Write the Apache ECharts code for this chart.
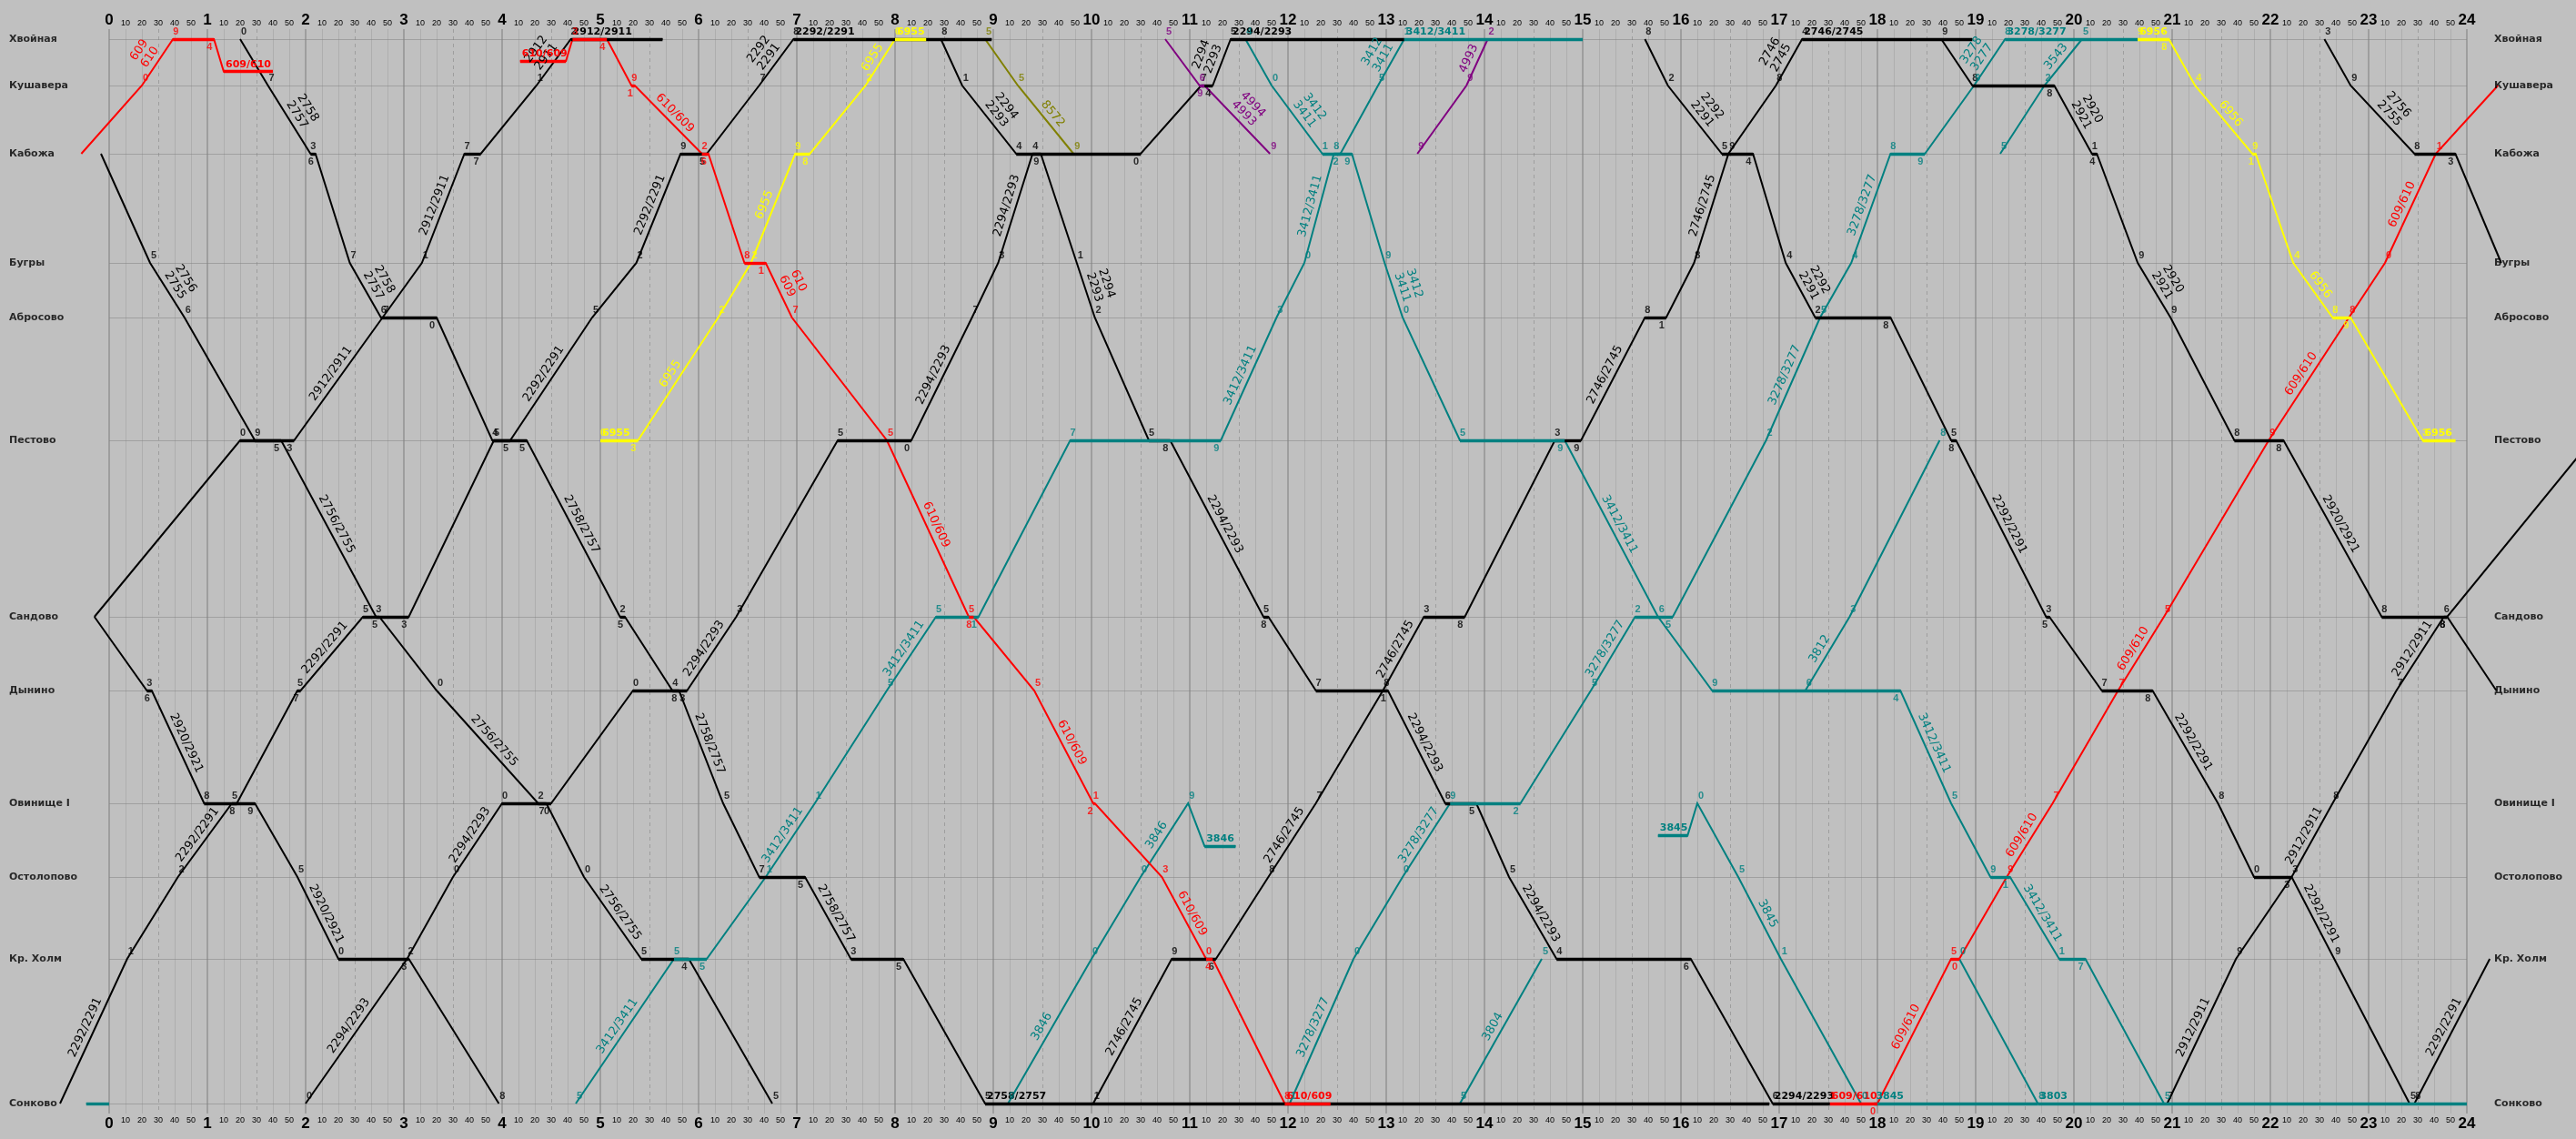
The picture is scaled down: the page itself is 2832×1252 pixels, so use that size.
<!DOCTYPE html>
<html><head><meta charset="utf-8">
<script src="https://cdn.jsdelivr.net/npm/echarts/dist/echarts.min.js"></script>
<style>html,body{margin:0;padding:0;background:#c0c0c0;}#c{width:2832px;height:1252px;}</style>
</head><body><div id="c"></div>
<script>
// ---------------- stations (y positions) ----------------
const stations = ['Хвойная','Кушавера','Кабожа','Бугры','Абросово','Пестово','Сандово','Дынино','Овинище I','Остолопово','Кр. Холм','Сонково'];
const stationKm = [0,51,126,246,306,441,635,716,840,921,1011,1170];
const hourTicks = Array.from({length:25},(_,i)=>i);
const minuteLabels = ['10','20','30','40','50'];

// ---------------- trains: [time, station index] ----------------
const b2756m = [['-0:05',2],['0:25',3],['0:46',4],['1:29',5],['1:45',5],['2:43',6],['2:45',6],['3:20',7],['4:22',8],['4:27',8],['4:50',9],['5:25',10],['5:54',10],['6:45',11]];
const lb2756m = [['0:25','2756\n2755'],['1:45','2756/2755'],['3:20','2756/2755'],['4:50','2756/2755']];
const b2756e = [['22:33',0],['22:49',1],['23:28',2],['23:53',2],['24:21',3]];
const lb2756e = [['22:49','2756\n2755']];
const b2758 = [['1:20',0],['1:37',1],['2:03',2],['2:06',2],['2:27',3],['2:46',4],['3:20',4],['3:54',5],['4:15',5],['5:12',6],['5:15',6],['5:44',7],['5:48',7],['6:15',8],['6:37',9],['7:05',9],['7:33',10],['8:05',10],['8:55',11],['16:54',11]];
const lb2758 = [['1:37','2758\n2757'],['2:27','2758\n2757'],['4:15','2758/2757'],['5:48','2758/2757'],['7:05','2758/2757'],['8:55','2758/2757']];
const b2912m = [['-0:09',6],['1:20',5],['1:53',5],['2:47',4],['3:11',3],['3:37',2],['3:47',2],['4:21',1],['4:42',0],['5:38',0]];
const lb2912m = [['1:53','2912/2911'],['3:11','2912/2911'],['4:21','2912\n2911'],['4:42','2912/2911']];
const b2912e = [['20:57',11],['21:39',10],['22:13',9],['22:38',8],['23:17',7],['23:46',6],['23:48',6],['25:16',5]];
const lb2912e = [['20:57','2912/2911'],['22:13','2912/2911'],['23:17','2912/2911']];
const b2292m = [['-0:30',11],['0:11',10],['0:42',9],['1:15',8],['1:18',8],['1:55',7],['1:57',7],['2:35',6],['3:03',6],['3:55',5],['4:05',5],['4:55',4],['5:22',3],['5:49',2],['6:05',2],['6:37',1],['6:58',0],['8:59',0]];
const lb2292m = [['-0:30','2292/2291'],['0:42','2292/2291'],['1:57','2292/2291'],['4:05','2292/2291'],['5:22','2292/2291'],['6:37','2292\n2291'],['6:58','2292/2291']];
const b2292d = [['15:38',0],['15:52',1],['16:25',2],['16:44',2],['17:04',3],['17:22',4],['18:08',4],['18:45',5],['18:48',5],['19:43',6],['19:45',6],['20:17',7],['20:48',7],['21:28',8],['21:50',9],['22:13',9],['22:39',10],['23:25',11]];
const lb2292d = [['15:52','2292\n2291'],['17:04','2292\n2291'],['18:48','2292/2291'],['20:48','2292/2291'],['22:13','2292/2291']];
const b2292e = [['23:28',11],['24:14',10]];
const lb2292e = [['23:28','2292/2291']];
const b2920m = [['-0:09',6],['0:23',7],['0:26',7],['0:58',8],['1:29',8],['1:55',9],['2:20',10],['3:03',10],['3:58',11]];
const lb2920m = [['0:26','2920/2921'],['1:55','2920/2921']];
const b2920e = [['18:39',0],['18:58',1],['19:48',1],['20:11',2],['20:14',2],['20:39',3],['20:59',4],['21:38',5],['22:08',5],['23:08',6],['23:48',6],['24:18',7]];
const lb2920e = [['19:48','2920\n2921'],['20:39','2920\n2921'],['22:08','2920/2921']];
const b2294a = [['2:00',11],['3:02',10],['3:30',9],['4:00',8],['4:30',8],['5:20',7],['5:53',7],['6:23',6],['7:25',5],['8:10',5],['8:47',4],['9:03',3],['9:24',2],['9:29',2],['9:51',3],['10:02',4],['10:35',5],['10:48',5],['11:45',6],['11:48',6],['12:17',7],['13:01',7],['13:36',8],['13:55',8],['14:15',9],['14:44',10],['16:06',10],['16:56',11],['17:31',11]];
const lb2294a = [['2:00','2294/2293'],['3:30','2294/2293'],['5:53','2294/2293'],['8:10','2294/2293'],['9:03','2294/2293'],['9:51','2294\n2293'],['10:48','2294/2293'],['13:01','2294/2293'],['14:15','2294/2293'],['16:56','2294/2293']];
const b2294b = [['8:28',0],['8:41',1],['9:14',2],['10:30',2],['11:07',1],['11:14',1],['11:25',0],['13:11',0]];
const lb2294b = [['8:41','2294\n2293'],['11:14','2294\n2293'],['11:25','2294/2293']];
const b2746 = [['10:01',11],['10:49',10],['11:16',10],['11:48',9],['12:17',8],['12:58',7],['13:23',6],['13:48',6],['14:43',5],['14:59',5],['15:38',4],['15:51',4],['16:08',3],['16:29',2],['16:58',1],['17:14',0],['18:58',0]];
const lb2746 = [['10:01','2746/2745'],['11:48','2746/2745'],['12:58','2746/2745'],['14:59','2746/2745'],['16:08','2746/2745'],['16:58','2746\n2745'],['17:14','2746/2745']];

const r609a = [['-0:17',2],['0:20',1],['0:39',0],['1:04',0],['1:10',0.7],['1:40',0.7]];
const lr609a = [['0:20','609\n610'],['1:10','609/610']];
const r610 = [['4:11',0.47],['4:39',0.47],['4:43',0],['5:04',0],['5:19',1],['5:21',1],['6:02',2],['6:06',2],['6:28',3],['6:41',3],['6:57',4],['7:55',5],['8:45',6],['8:48',6],['9:25',7],['10:01',8],['10:02',8],['10:43',9],['11:10',10],['11:14',10],['11:58',11],['12:26',11]];
const lr610 = [['4:11','610/609'],['5:21','610/609'],['6:41','610\n609'],['7:55','610/609'],['9:25','610/609'],['10:43','610/609'],['11:58','610/609']];
const r609b = [['17:31',11],['18:00',11],['18:45',10],['18:50',10],['19:19',9],['19:47',8],['20:27',7],['20:55',6],['21:59',5],['22:48',4],['23:10',3],['23:41',2],['24:19',1]];
const lr609b = [['17:31','609/610'],['18:00','609/610'],['19:19','609/610'],['20:27','609/610'],['21:59','609/610'],['23:10','609/610']];

const y6955 = [['5:00',5],['5:23',5],['6:12',4],['6:32',3],['6:59',2],['7:08',2],['7:42',1],['8:00',0],['8:19',0]];
const ly6955 = [['5:00','6955'],['5:23','6955'],['6:32','6955'],['7:42','6955'],['8:00','6955']];
const y6956 = [['20:39',0],['20:58',0],['21:14',1],['21:49',2],['21:51',2],['22:14',3],['22:38',4],['22:49',4],['23:33',5],['23:53',5]];
const ly6956 = [['20:39','6956'],['21:14','6956'],['22:14','6956'],['23:33','6956']];
const o8572 = [['8:55',0],['9:15',1],['9:49',2]];
const lo8572 = [['9:15','8572']];
const p4994 = [['10:45',0],['11:06',1],['11:09',1],['11:49',2]];
const lp4994 = [['11:09','4994\n4993']];
const p4993 = [['13:19',2],['13:49',1],['14:02',0]];
const lp4993 = [['13:49','4993']];

const t3412a = [['4:45',11],['5:45',10],['6:05',10],['6:41',9],['7:11',8],['7:55',7],['8:25',6],['8:51',6],['9:47',5],['11:19',5],['11:53',4],['12:10',3],['12:28',2],['12:32',2],['12:55',1],['13:11',0],['15:00',0]];
const lt3412a = [['4:45','3412/3411'],['6:41','3412/3411'],['7:55','3412/3411'],['11:19','3412/3411'],['12:10','3412/3411'],['12:55','3412\n3411'],['13:11','3412/3411']];
const t3412b = [['11:34',0],['11:50',1],['12:21',2],['12:39',2],['12:59',3],['13:10',4],['13:45',5],['14:49',5],['15:46',6],['16:19',7],['18:14',7],['18:45',8],['19:09',9],['19:21',9],['19:51',10],['20:07',10],['20:55',11]];
const lt3412b = [['11:50','3412\n3411'],['12:59','3412\n3411'],['14:49','3412/3411'],['18:14','3412/3411'],['19:21','3412/3411']];
const t3846 = [['9:09',11],['10:00',10],['10:30',9],['10:59',8],['11:09',8.58],['11:28',8.58]];
const lt3846 = [['9:09','3846'],['10:30','3846'],['11:09','3846']];
const t3278 = [['12:01',11],['12:40',10],['13:10',9],['13:39',8],['14:22',8],['15:05',7],['15:32',6],['15:55',6],['16:52',5],['17:25',4],['17:44',3],['18:08',2],['18:29',2],['18:59',1],['19:18',0],['20:39',0]];
const lt3278 = [['12:01','3278/3277'],['13:10','3278/3277'],['15:05','3278/3277'],['16:52','3278/3277'],['17:44','3278/3277'],['18:59','3278\n3277'],['19:18','3278/3277']];
const t3804 = [['13:45',11],['14:35',10]];
const lt3804 = [['13:45','3804']];
const t3845 = [['15:46',8.44],['16:04',8.44],['16:10',8],['16:35',9],['17:01',10],['17:50',11]];
const lt3845 = [['15:46','3845'],['16:35','3845']];
const t3812 = [['17:16',7],['17:43',6],['18:38',5]];
const lt3812 = [['17:16','3812']];
const t3543 = [['19:15',2],['19:42',1],['20:05',0]];
const lt3543 = [['19:42','3543']];
const t3803 = [['18:50',10],['19:38',11]];
const tSonk = [['17:58',11],['19:38',11],['24:00',11]];
const ltSonk = [['17:58','3845'],['19:38','3803']];
const tSonk0 = [['-0:14',11],['0:00',11]];

// ---------------- build ----------------
const BLACK='#000000', RED='#ff0000', YELLOW='#ffff00', TEAL='#008080', PURPLE='#800080', OLIVE='#808000';
const trains = [
  [b2756m,BLACK,lb2756m],[b2756e,BLACK,lb2756e],[b2758,BLACK,lb2758],[b2912m,BLACK,lb2912m],[b2912e,BLACK,lb2912e],
  [b2292m,BLACK,lb2292m],[b2292d,BLACK,lb2292d],[b2292e,BLACK,lb2292e],[b2920m,BLACK,lb2920m],[b2920e,BLACK,lb2920e],
  [b2294a,BLACK,lb2294a],[b2294b,BLACK,lb2294b],[b2746,BLACK,lb2746],
  [t3412a,TEAL,lt3412a],[t3412b,TEAL,lt3412b],[t3846,TEAL,lt3846],[t3278,TEAL,lt3278],[t3804,TEAL,lt3804],
  [t3845,TEAL,lt3845],[t3812,TEAL,lt3812],[t3543,TEAL,lt3543],[t3803,TEAL,[]],[tSonk,TEAL,ltSonk,true],[tSonk0,TEAL,[],true],
  [o8572,OLIVE,lo8572],[p4994,PURPLE,lp4994],[p4993,PURPLE,lp4993],
  [y6955,YELLOW,ly6955],[y6956,YELLOW,ly6956],
  [r609a,RED,lr609a],[r610,RED,lr610],[r609b,RED,lr609b]
];
function tm(s){const neg=s[0]==='-';const a=s.replace('-','').split(':').map(Number);const v=a[0]*60+a[1];return neg?-v:v;}
function km(idx){const i=Math.floor(idx),f=idx-i;return f===0?stationKm[i]:stationKm[i]+f*(stationKm[i+1]-stationKm[i]);}

const pathData=[], stopData=[], labelData=[], digitData=[];
trains.forEach(([pts,color,labels,noDigits])=>{
  const c=pts.map(p=>[tm(p[0]),km(p[1])]);
  pathData.push({coords:c,lineStyle:{color}});
  for(let i=0;i<pts.length-1;i++) if(pts[i][1]===pts[i+1][1]) stopData.push({coords:[c[i],c[i+1]],lineStyle:{color}});
  labels.forEach(([start,text])=>{
    const i=pts.findIndex(p=>p[0]===start); if(i<0||i>=pts.length-1) return;
    const hor=pts[i][1]===pts[i+1][1];
    labelData.push({coords:[c[i],c[i+1]],label:{show:true,formatter:text,color,opacity:1,position:hor?'insideStartTop':'insideMiddleTop',
      fontWeight:hor?'bold':'normal',fontSize:hor?11:13,distance:hor?2:3,lineHeight:hor?12:14}});
  });
  if(noDigits) return;
  for(let i=0;i<pts.length;i++){
    const s=pts[i][1]; if(!Number.isInteger(s)) continue;
    const t=c[i][0]; if(t<0||t>1440) continue;
    if(i===pts.length-1 && i>0 && pts[i-1][1]===s) continue;
    const arr = i<pts.length-1 && pts[i+1][1]===s;
    const dep = i>0 && pts[i-1][1]===s;
    const mm=((t%60)+60)%60, d=String(mm%10);
    let off=[4,-8];
    if(dep) off=[-5,9]; else if(arr) off=[3,-8];
    digitData.push({value:[t,c[i][1]],label:{formatter:d,color,offset:off}});
  }
});

const gridLines=[];
for(let t=0;t<=1440;t+=10){
  let ls, x=t;
  if(t%60===0) ls={color:'#7c7c7c',width:2};
  else { x=t+0.5/1.8; ls = t%30===0 ? {color:'#7c7c7c',width:1,type:[4,4]} : {color:'#9c9c9c',width:1}; }
  gridLines.push({coords:[[x,-11],[x,1181]],lineStyle:ls});
}
const stationLines=stationKm.map(p=>({coords:[[0,p+0.5],[1440,p+0.5]],lineStyle:{color:'#808080',width:1}}));
const stLabelsL=stationKm.map((p,i)=>({value:[0,p],label:{formatter:stations[i]}}));
const stLabelsR=stationKm.map((p,i)=>({value:[1440,p],label:{formatter:stations[i]}}));

const xLab = {
  margin:12,
  formatter:v=> v%60===0 ? '{h|'+hourTicks[v/60]+'}' : '{m|'+minuteLabels[v%60/10-1]+'}',
  rich:{h:{fontFamily:'Liberation Sans',fontWeight:'bold',fontSize:17,lineHeight:18,color:'#000'},
        m:{fontFamily:'Liberation Sans',fontSize:9,lineHeight:11,color:'#000'}}
};
const chart=echarts.init(document.getElementById('c'),null,{renderer:'canvas'});
chart.setOption({
  backgroundColor:'#c0c0c0',
  animation:false,
  grid:{left:120,right:120,top:43,bottom:39},
  xAxis:[
    {type:'value',position:'bottom',min:0,max:1440,interval:10,axisLine:{show:false},axisTick:{show:false},splitLine:{show:false},axisLabel:Object.assign({},xLab,{margin:13})},
    {type:'value',position:'top',min:0,max:1440,interval:10,axisLine:{show:false},axisTick:{show:false},splitLine:{show:false},axisLabel:xLab}
  ],
  yAxis:{type:'value',min:0,max:1170,inverse:true,show:false},
  series:[
    {type:'lines',coordinateSystem:'cartesian2d',silent:true,clip:false,z:1,data:gridLines},
    {type:'lines',coordinateSystem:'cartesian2d',silent:true,clip:false,z:2,data:stationLines},
    {type:'lines',coordinateSystem:'cartesian2d',polyline:true,silent:true,clip:false,z:3,lineStyle:{width:2,opacity:1},data:pathData},
    {type:'lines',coordinateSystem:'cartesian2d',silent:true,clip:false,z:4,lineStyle:{width:3.4,opacity:1},data:stopData},
    {type:'lines',coordinateSystem:'cartesian2d',silent:true,clip:false,z:5,lineStyle:{color:'rgba(0,0,0,0)',width:1,opacity:1},
      label:{show:true,fontFamily:'DejaVu Sans',fontSize:13},data:labelData},
    {type:'scatter',symbolSize:0,silent:true,clip:false,z:6,
      label:{show:true,position:'inside',fontFamily:'Liberation Sans',fontWeight:'bold',fontSize:11},data:digitData},
    {type:'scatter',symbolSize:0,silent:true,clip:false,z:6,
      label:{show:true,position:'inside',align:'left',offset:[-110,0],fontFamily:'DejaVu Sans',fontWeight:'bold',fontSize:11,color:'#000'},data:stLabelsL},
    {type:'scatter',symbolSize:0,silent:true,clip:false,z:6,
      label:{show:true,position:'inside',align:'left',offset:[30,0],fontFamily:'DejaVu Sans',fontWeight:'bold',fontSize:11,color:'#000'},data:stLabelsR}
  ]
});
</script></body></html>
